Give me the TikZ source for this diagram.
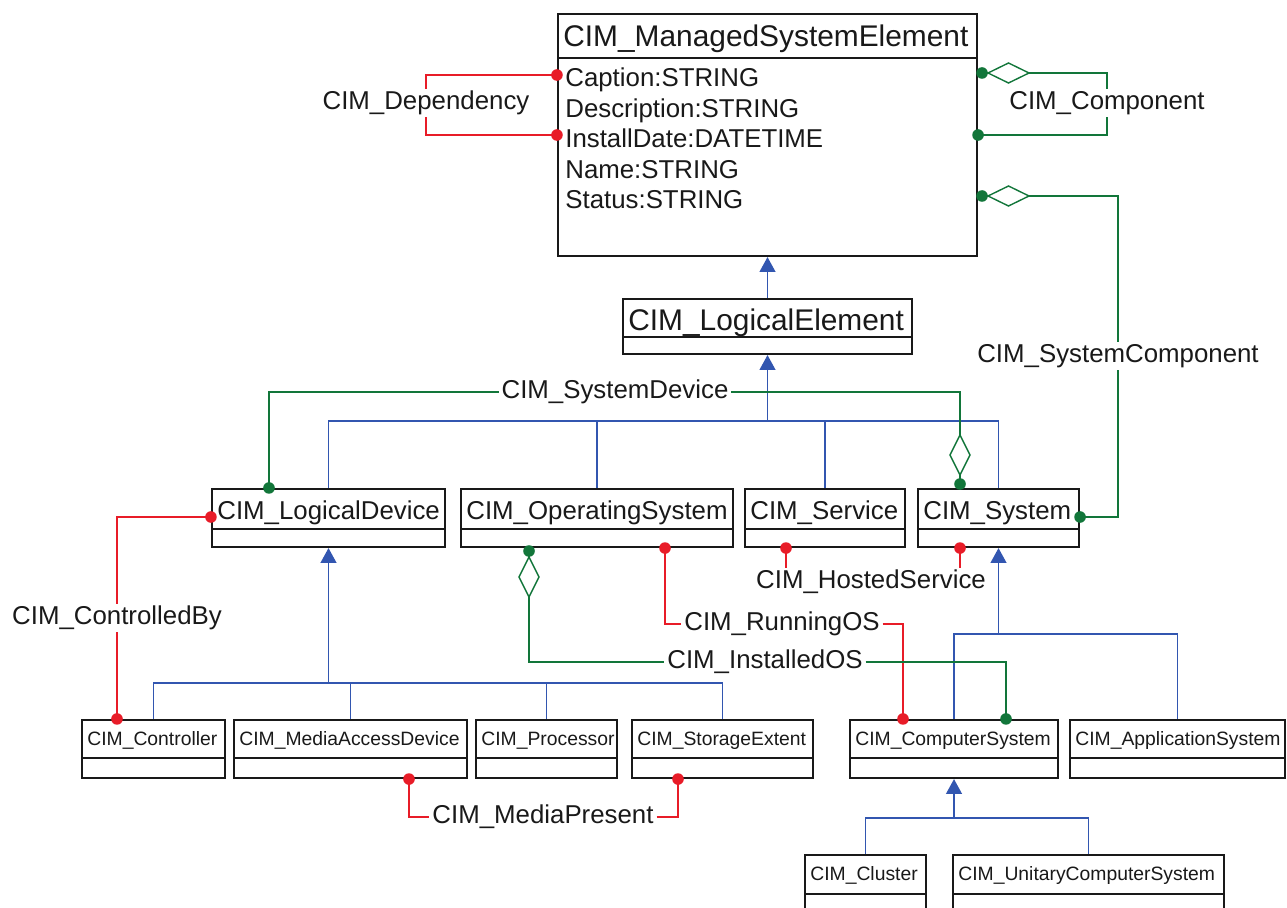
\documentclass[tikz,border=0pt]{standalone}
\usepackage{fontspec}
\setmainfont{Liberation Sans}
\usetikzlibrary{arrows.meta,fit}
\definecolor{inkc}{RGB}{25,25,25}
\definecolor{inhc}{RGB}{50,86,176}
\definecolor{grnc}{RGB}{18,118,58}
\definecolor{redc}{RGB}{232,28,40}

% UML class box: name, x1, y1, x2, y2, divider y, title baseline y, font style, title
\newcommand\umlclass[9]{%
  \node[box, fit={(#2,#3) (#4,#5)}] (#1) {};
  \draw[boxl] (#2,#6) -- (#4,#6);
  \node[#8, anchor=base west] (#1-t) at ({#2+5},#7) {#9};}
% association end markers
\newcommand\assocdot[2]{\fill[#1] #2 circle[radius=3.3pt];}
\newcommand\hdiam[1]{\filldraw[draw=grnc, line width=0.8pt, fill=white] #1 -- ++(20.5,-10) -- ++(20.5,10) -- ++(-20.5,10) -- cycle;}
\newcommand\vdiam[1]{\filldraw[draw=grnc, line width=0.8pt, fill=white] #1 -- ++(10,20) -- ++(-10,20) -- ++(-10,-20) -- cycle;}

\begin{document}
\begin{tikzpicture}[x=0.02cm,y=-0.02cm,
  box/.style={draw=inkc, line width=1.2pt, inner sep=0pt, fill=white},
  boxl/.style={draw=inkc, line width=1.2pt},
  big/.style={font=\fontsize{17}{20}\selectfont, text=inkc, inner sep=0pt},
  mid/.style={font=\fontsize{14.7}{17}\selectfont, text=inkc, inner sep=0pt},
  small/.style={font=\fontsize{11}{13}\selectfont, text=inkc, inner sep=0pt},
  lab/.style={font=\fontsize{14.7}{17}\selectfont, text=inkc, inner xsep=1.5pt, inner ysep=1pt, text height=10.6pt, text depth=3pt},
  inhl/.style={draw=inhc, line width=1.1pt},
  inh/.style={inhl, -{Triangle[length=8.5pt,width=9pt]}},
  grnl/.style={draw=grnc, line width=1.1pt},
  redl/.style={draw=redc, line width=1.1pt},
]
\clip (0,0) rectangle (1287,908);

% ---------- classes ----------
\umlclass{MSE}{558}{14}{977}{256}{58}{47}{big}{CIM\_ManagedSystemElement}
\node[mid, anchor=base west] (MSE-a1) at (565,87)  {Caption:STRING};
\node[mid, anchor=base west] (MSE-a2) at (565,118) {Description:STRING};
\node[mid, anchor=base west] (MSE-a3) at (565,148) {InstallDate:DATETIME};
\node[mid, anchor=base west] (MSE-a4) at (565,179) {Name:STRING};
\node[mid, anchor=base west] (MSE-a5) at (565,209) {Status:STRING};

\umlclass{LE}{623}{299}{912}{354}{337}{331}{big}{CIM\_LogicalElement}

\umlclass{LD}{212}{489}{445}{547}{529}{519}{mid}{CIM\_LogicalDevice}
\umlclass{OS}{461}{489}{733}{547}{529}{519}{mid}{CIM\_OperatingSystem}
\umlclass{SV}{745}{489}{905}{547}{529}{519}{mid}{CIM\_Service}
\umlclass{SY}{918}{489}{1079}{547}{529}{519}{mid}{CIM\_System}

\umlclass{CTL}{82}{720}{225}{778}{758}{745}{small}{CIM\_Controller}
\umlclass{MAD}{234}{720}{467}{778}{758}{745}{small}{CIM\_MediaAccessDevice}
\umlclass{PRC}{476}{720}{617}{778}{758}{745}{small}{CIM\_Processor}
\umlclass{SE}{632}{720}{813}{778}{758}{745}{small}{CIM\_StorageExtent}
\umlclass{CS}{850}{720}{1058}{778}{758}{745}{small}{CIM\_ComputerSystem}
\umlclass{AS}{1070}{720}{1285}{778}{758}{745}{small}{CIM\_ApplicationSystem}

\umlclass{CL}{805}{855}{926}{915}{894}{880}{small}{CIM\_Cluster}
\umlclass{UCS}{953}{855}{1224}{915}{894}{880}{small}{CIM\_UnitaryComputerSystem}

% ---------- inheritance ----------
\draw[inh] (LE.north) -- (MSE.south);

\coordinate (b1) at (LE.south |- 0,421);
\draw[inhl] (LD.north) |- (b1);
\draw[inhl] (OS.north) |- (b1);
\draw[inhl] (SV.north) |- (b1);
\draw[inhl] (SY.north) |- (b1);
\draw[inh] (b1) -- (LE.south);

\coordinate (b2) at (LD.south |- 0,683);
\draw[inhl] (CTL.north) |- (b2);
\draw[inhl] (MAD.north) |- (b2);
\draw[inhl] (PRC.north) |- (b2);
\draw[inhl] (SE.north) |- (b2);
\draw[inh] (b2) -- (LD.south);

\coordinate (b3) at (SY.south |- 0,634);
\draw[inhl] (CS.north) |- (b3);
\draw[inhl] (AS.north) |- (b3);
\draw[inh] (b3) -- (SY.south);

\coordinate (b4) at (CS.south |- 0,818);
\draw[inhl] (CL.north) |- (b4);
\draw[inhl] (UCS.north) |- (b4);
\draw[inh] (b4) -- (CS.south);

% ---------- associations ----------
% CIM_Dependency
\node[lab] (dep) at (426,103) {CIM\_Dependency};
\draw[redl] (MSE.west |- 0,75) -| (dep.north);
\draw[redl] (MSE.west |- 0,135) -| (dep.south);
\assocdot{redc}{(MSE.west |- 0,75)}
\assocdot{redc}{(MSE.west |- 0,135)}

% CIM_Component
\node[lab] (cmp) at (1107,103) {CIM\_Component};
\draw[grnl] (MSE.east |- 0,73) -| (cmp.north);
\draw[grnl] (MSE.east |- 0,135) -| (cmp.south);
\hdiam{(988,73)}
\assocdot{grnc}{(982,73)}
\assocdot{grnc}{(MSE.east |- 0,135)}

% CIM_SystemComponent
\node[lab] (scmp) at (1118,356) {CIM\_SystemComponent};
\draw[grnl] (MSE.east |- 0,196) -| (scmp.north);
\draw[grnl] (SY.east |- 0,517) -| (scmp.south);
\hdiam{(988,196)}
\assocdot{grnc}{(982,196)}
\assocdot{grnc}{(SY.east |- 0,517)}

% CIM_SystemDevice
\node[lab, fill=white] (sdev) at (615,392) {CIM\_SystemDevice};
\draw[grnl] (LD.north -| 269,0) |- (sdev.west);
\draw[grnl] (sdev.east) -| (SY.north -| 960,0);
\vdiam{(960,435)}
\assocdot{grnc}{(LD.north -| 269,0)}
\assocdot{grnc}{(960,484)}

% CIM_ControlledBy
\node[lab] (cb) at (117,618) {CIM\_ControlledBy};
\draw[redl] (LD.west |- 0,517) -| (cb.north);
\draw[redl] (cb.south) -- (CTL.north -| cb.south);
\assocdot{redc}{(LD.west |- 0,517)}
\assocdot{redc}{(CTL.north -| cb.south)}

% CIM_HostedService
\node[lab] (hs) at (871,582) {CIM\_HostedService};
\draw[redl] (SV.south -| 786,0) -- (hs.north -| 786,0);
\draw[redl] (SY.south -| 960,0) -- (hs.north -| 960,0);
\assocdot{redc}{(SV.south -| 786,0)}
\assocdot{redc}{(SY.south -| 960,0)}

% CIM_RunningOS
\node[lab] (ros) at (782,624) {CIM\_RunningOS};
\draw[redl] (OS.south -| 665,0) |- (ros.west);
\draw[redl] (ros.east) -| (CS.north -| 903,0);
\assocdot{redc}{(OS.south -| 665,0)}
\assocdot{redc}{(CS.north -| 903,0)}

% CIM_InstalledOS
\node[lab] (ios) at (765,662) {CIM\_InstalledOS};
\draw[grnl] (OS.south -| 529,0) |- (ios.west);
\draw[grnl] (ios.east) -| (CS.north -| 1006,0);
\vdiam{(529,557)}
\assocdot{grnc}{(529,551)}
\assocdot{grnc}{(CS.north -| 1006,0)}

% CIM_MediaPresent
\node[lab] (mp) at (543,817) {CIM\_MediaPresent};
\draw[redl] (MAD.south -| 409,0) |- (mp.west);
\draw[redl] (mp.east) -| (SE.south -| 678,0);
\assocdot{redc}{(MAD.south -| 409,0)}
\assocdot{redc}{(SE.south -| 678,0)}

\end{tikzpicture}
\end{document}
